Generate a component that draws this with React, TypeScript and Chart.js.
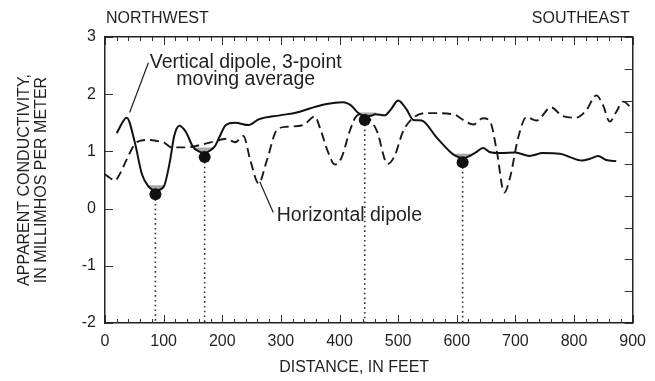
import React, { useEffect, useRef } from "react";
import { Chart, registerables } from "chart.js";
Chart.register(...registerables);

// Vertical dipole, 3-point moving average (solid)
const vertX = [20, 37, 51, 63, 74, 87, 100, 111, 118, 127, 138, 150, 160, 170, 180, 188, 196, 206, 222, 245, 262, 298, 327, 349, 378, 406, 420, 432, 442, 452, 462, 477, 488, 500, 514, 526, 540, 565, 588, 598, 610, 622, 632, 645, 656, 675, 700, 724, 747, 776, 793, 813, 827, 841, 855, 872];
const vertY = [1.32, 1.59, 1.15, 0.6, 0.39, 0.32, 0.38, 0.84, 1.27, 1.45, 1.34, 1.08, 1.0, 0.97, 1.02, 1.1, 1.27, 1.46, 1.5, 1.46, 1.56, 1.63, 1.68, 1.75, 1.83, 1.86, 1.8, 1.67, 1.62, 1.62, 1.65, 1.63, 1.74, 1.89, 1.74, 1.55, 1.54, 1.25, 1.0, 0.92, 0.88, 0.92, 0.98, 1.06, 0.99, 0.97, 0.98, 0.92, 0.97, 0.96, 0.9, 0.84, 0.87, 0.92, 0.85, 0.83];

// Horizontal dipole (dashed)
const horizX = [0, 8, 17, 26, 37, 51, 62, 75, 90, 100, 114, 139, 162, 185, 207, 222, 236, 248, 262, 276, 293, 310, 338, 358, 367, 380, 392, 403, 418, 429, 440, 452, 464, 482, 494, 508, 526, 548, 594, 611, 628, 645, 657, 668, 681, 691, 705, 719, 736, 761, 780, 804, 821, 838, 849, 861, 872, 884, 897, 900];
const horizY = [0.6, 0.54, 0.49, 0.62, 0.86, 1.13, 1.19, 1.2, 1.18, 1.16, 1.07, 1.07, 1.11, 1.17, 1.22, 1.16, 1.27, 0.84, 0.44, 0.84, 1.37, 1.43, 1.46, 1.61, 1.4, 1.0, 0.77, 0.88, 1.37, 1.62, 1.65, 1.56, 1.35, 0.78, 0.92, 1.34, 1.59, 1.67, 1.65, 1.55, 1.47, 1.58, 1.52, 1.02, 0.28, 0.55, 1.25, 1.6, 1.54, 1.77, 1.62, 1.59, 1.72, 1.98, 1.82, 1.52, 1.69, 1.87, 1.76, 1.72];

// Marked anomalies (black dots with dotted drop lines)
const markerX = [86, 170, 443, 610];
const markerY = [0.25, 0.9, 1.55, 0.81];

// Shaded troughs on the vertical-dipole curve
const shadeX = [
  [72, 78, 87, 95, 102],
  [152, 160, 170, 180, 187],
  [431, 442, 452, 463],
  [594, 600, 610, 620, 628],
];
const shadeY = [
  [0.41, 0.35, 0.32, 0.35, 0.41],
  [1.07, 1.0, 0.97, 1.02, 1.07],
  [1.68, 1.62, 1.62, 1.66],
  [0.96, 0.91, 0.88, 0.91, 0.96],
];
const shadeTop = [0.41, 1.07, 1.68, 0.96];

const xTickValues = [0, 100, 200, 300, 400, 500, 600, 700, 800, 900];
const yTickValues = [-2, -1, 0, 1, 2, 3];

const FONT = '"Liberation Sans", Arial, Helvetica, sans-serif';
const INK = "#231f20";

const decor = {
  id: "decor",
  afterDraw(chart: any) {
    const { ctx, chartArea: a, scales } = chart;
    const xs = scales.x;
    const ys = scales.y;
    const yr = scales.yRight;
    ctx.save();
    // inward tick marks
    ctx.strokeStyle = "#333";
    ctx.lineWidth = 1;
    ctx.beginPath();
    for (let v = 0; v <= 900; v += 20) {
      const len = v % 100 === 0 ? 8 : 4;
      const px = Math.round(xs.getPixelForValue(v)) + 0.5;
      ctx.moveTo(px, a.bottom);
      ctx.lineTo(px, a.bottom - len);
      ctx.moveTo(px, a.top);
      ctx.lineTo(px, a.top + len);
    }
    for (const v of yTickValues) {
      const py = Math.round(ys.getPixelForValue(v)) + 0.5;
      ctx.moveTo(a.left, py);
      ctx.lineTo(a.left + 8, py);
    }
    for (let v = 0; v <= 9; v++) {
      const py = Math.round(yr.getPixelForValue(v)) + 0.5;
      ctx.moveTo(a.right, py);
      ctx.lineTo(a.right - 8, py);
    }
    ctx.stroke();

    ctx.fillStyle = INK;
    ctx.textBaseline = "middle";
    // direction labels
    ctx.font = `16px ${FONT}`;
    ctx.textAlign = "left";
    ctx.fillText("NORTHWEST", a.left + 1, 18.5);
    ctx.textAlign = "right";
    ctx.fillText("SOUTHEAST", a.right - 3, 18.5);

    // axis titles
    ctx.textAlign = "center";
    ctx.fillText("DISTANCE, IN FEET", xs.getPixelForValue(425), 368);
    ctx.save();
    ctx.translate(25, (a.top + a.bottom) / 2);
    ctx.rotate(-Math.PI / 2);
    ctx.fillText("APPARENT CONDUCTIVITY,", 0, 0);
    ctx.fillText("IN MILLIMHOS PER METER", 0, 16.7);
    ctx.restore();

    // annotations
    ctx.font = `19.5px ${FONT}`;
    ctx.textAlign = "center";
    ctx.fillText("Vertical dipole, 3-point", xs.getPixelForValue(240), ys.getPixelForValue(2.56));
    ctx.fillText("moving average", xs.getPixelForValue(240), ys.getPixelForValue(2.25));
    ctx.textAlign = "left";
    ctx.fillText("Horizontal dipole", xs.getPixelForValue(293), ys.getPixelForValue(-0.12));

    ctx.strokeStyle = INK;
    ctx.lineWidth = 1.2;
    ctx.beginPath();
    ctx.moveTo(xs.getPixelForValue(74), ys.getPixelForValue(2.55));
    ctx.lineTo(xs.getPixelForValue(42), ys.getPixelForValue(1.68));
    ctx.moveTo(xs.getPixelForValue(264), ys.getPixelForValue(0.47));
    ctx.lineTo(xs.getPixelForValue(287), ys.getPixelForValue(-0.07));
    ctx.stroke();
    ctx.restore();
  },
};

export default function App() {
  const ref = useRef<HTMLCanvasElement | null>(null);

  useEffect(() => {
    if (!ref.current) return;
    const border = { display: true, color: "#222", width: 1.5 };
    const datasets: any[] = [];

    markerX.forEach((mx, i) => {
      datasets.push({
        label: "drop" + i,
        data: [
          { x: mx, y: markerY[i] },
          { x: mx, y: -2 },
        ],
        borderColor: "#333",
        borderWidth: 1.6,
        borderDash: [1.6, 3.2],
        pointRadius: 0,
        fill: false,
        order: 5,
      });
    });

    shadeX.forEach((sx, i) => {
      datasets.push({
        label: "shade" + i,
        data: sx.map((x, j) => ({ x, y: shadeY[i][j] })),
        borderWidth: 0,
        borderColor: "rgba(0,0,0,0)",
        backgroundColor: "#a9a9a9",
        pointRadius: 0,
        cubicInterpolationMode: "monotone",
        fill: { value: shadeTop[i] },
        order: 4,
      });
    });

    datasets.push({
      label: "Horizontal dipole",
      data: horizX.map((x, i) => ({ x, y: horizY[i] })),
      borderColor: "#1a1a1a",
      borderWidth: 1.9,
      borderDash: [9, 5],
      pointRadius: 0,
      cubicInterpolationMode: "monotone",
      fill: false,
      order: 3,
    });

    datasets.push({
      label: "Vertical dipole",
      data: vertX.map((x, i) => ({ x, y: vertY[i] })),
      borderColor: "#111",
      borderWidth: 2,
      pointRadius: 0,
      cubicInterpolationMode: "monotone",
      fill: false,
      order: 2,
    });

    datasets.push({
      label: "markers",
      data: markerX.map((x, i) => ({ x, y: markerY[i] })),
      showLine: false,
      pointRadius: 6,
      pointBackgroundColor: "#111",
      pointBorderColor: "#111",
      pointBorderWidth: 0,
      order: 1,
    });

    const chart = new Chart(ref.current, {
      type: "line",
      data: { datasets },
      options: {
        animation: false,
        responsive: true,
        maintainAspectRatio: false,
        layout: { padding: 0 },
        plugins: {
          legend: { display: false },
          title: { display: false },
          tooltip: { enabled: false },
        },
        scales: {
          x: {
            type: "linear",
            position: "bottom",
            min: 0,
            max: 900,
            afterBuildTicks: (s: any) => {
              s.ticks = xTickValues.map((v) => ({ value: v }));
            },
            ticks: {
              autoSkip: false,
              maxRotation: 0,
              padding: 9,
              color: INK,
              font: { family: FONT, size: 16 },
            },
            grid: { display: false, drawTicks: false },
            border,
            afterFit: (s: any) => {
              s.height = 58;
            },
          },
          xTop: {
            type: "linear",
            position: "top",
            min: 0,
            max: 900,
            ticks: { display: false },
            grid: { display: false, drawTicks: false },
            border,
            afterFit: (s: any) => {
              s.height = 37;
            },
          },
          y: {
            type: "linear",
            position: "left",
            min: -2,
            max: 3,
            afterBuildTicks: (s: any) => {
              s.ticks = yTickValues.map((v) => ({ value: v }));
            },
            ticks: {
              padding: 9,
              color: INK,
              font: { family: FONT, size: 16 },
            },
            grid: { display: false, drawTicks: false },
            border,
            afterFit: (s: any) => {
              s.width = 105;
            },
          },
          yRight: {
            type: "linear",
            position: "right",
            min: 0,
            max: 9,
            ticks: { display: false },
            grid: { display: false, drawTicks: false },
            border,
            afterFit: (s: any) => {
              s.width = 22;
            },
          },
        },
      },
      plugins: [decor],
    });
    return () => chart.destroy();
  }, []);

  return (
    <div style={{ position: "fixed", left: 0, top: 0, width: 655, height: 381, background: "#fff" }}>
      <canvas ref={ref} />
    </div>
  );
}
